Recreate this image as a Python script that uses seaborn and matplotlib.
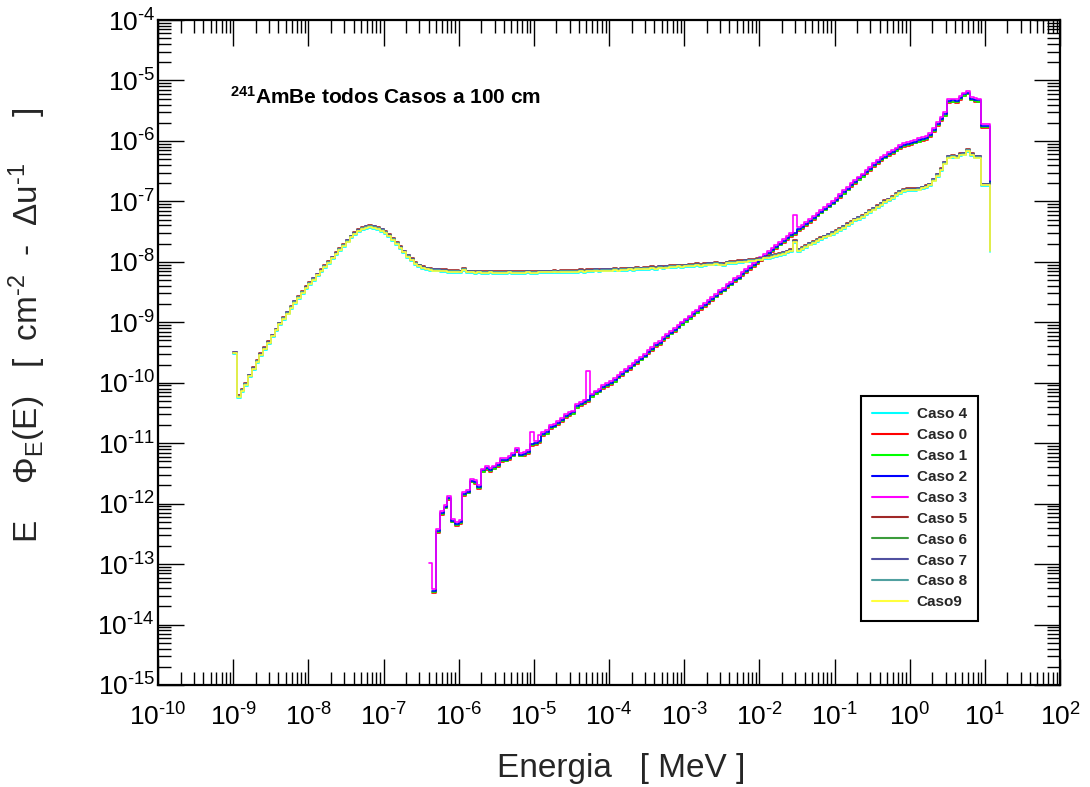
import numpy as np
import pandas as pd
import matplotlib
matplotlib.use("Agg")
import matplotlib.pyplot as plt
import seaborn as sns
from matplotlib.lines import Line2D
from matplotlib.ticker import LogLocator, NullFormatter, FuncFormatter

sns.set_theme(style="white")
plt.rcParams['font.family'] = ['Liberation Sans', 'DejaVu Sans']
plt.rcParams['mathtext.fontset'] = 'custom'
plt.rcParams['mathtext.rm'] = 'Liberation Sans'
plt.rcParams['mathtext.it'] = 'Liberation Sans:italic'
plt.rcParams['mathtext.bf'] = 'Liberation Sans:bold'
plt.rcParams['axes.unicode_minus'] = False

# ---------------- data (log10 values) ----------------
# lethargy bins, 20 per decade; first bin starts at 1e-9 MeV
log_e_first = -9.0
log_e_step = 0.05
log_e_last_edge = 1.075          # upper end of spectrum (~11.9 MeV)

# moderated spectra (Casos 4-9): bins from 1e-9 MeV up to 10^1.05 MeV, plus final edge value
group2_log = [
    -9.50, -10.22, -10.12, -10.02, -9.88, -9.76, -9.64, -9.53, -9.43, -9.33,
    -9.22, -9.12, -9.02, -8.93, -8.84, -8.75, -8.66, -8.58, -8.50, -8.42,
    -8.35, -8.28, -8.21, -8.14, -8.07, -8.00, -7.93, -7.86, -7.79, -7.72,
    -7.65, -7.58, -7.53, -7.48, -7.44, -7.42, -7.41, -7.42, -7.44, -7.47,
    -7.51, -7.56, -7.62, -7.69, -7.76, -7.83, -7.90, -7.96, -8.02, -8.06,
    -8.09, -8.11, -8.12, -8.13, -8.13, -8.14, -8.14, -8.15, -8.15, -8.15,
    -8.16, -8.12, -8.16, -8.16, -8.17, -8.16, -8.17, -8.17, -8.16, -8.17,
    -8.17, -8.17, -8.17, -8.16, -8.17, -8.17, -8.17, -8.17, -8.16, -8.17,
    -8.17, -8.16, -8.16, -8.16, -8.16, -8.15, -8.16, -8.15, -8.15, -8.15,
    -8.15, -8.15, -8.14, -8.15, -8.14, -8.14, -8.13, -8.14, -8.13, -8.13,
    -8.13, -8.12, -8.13, -8.12, -8.12, -8.11, -8.12, -8.10, -8.11, -8.10,
    -8.10, -8.09, -8.10, -8.08, -8.09, -8.08, -8.07, -8.07, -8.06, -8.07,
    -8.06, -8.05, -8.05, -8.04, -8.05, -8.04, -8.03, -8.03, -8.02, -8.03,
    -8.04, -8.01, -8.00, -8.00, -7.99, -7.99, -7.98, -7.97, -7.97, -7.96,
    -7.95, -7.93, -7.92, -7.90, -7.89, -7.87, -7.85, -7.83, -7.81, -7.66,
    -7.80, -7.77, -7.74, -7.70, -7.67, -7.64, -7.61, -7.58, -7.55, -7.52,
    -7.49, -7.46, -7.42, -7.38, -7.34, -7.30, -7.27, -7.24, -7.20, -7.16,
    -7.12, -7.08, -7.04, -7.00, -6.97, -6.93, -6.88, -6.84, -6.81, -6.80,
    -6.80, -6.80, -6.79, -6.77, -6.75, -6.72, -6.64, -6.56, -6.47, -6.36,
    -6.26, -6.25, -6.26, -6.22, -6.21, -6.15, -6.22, -6.26, -6.26, -6.72,
    -6.72, -6.72,
]
group2_final = -7.80

# bare-source spectra (Casos 0-3): bins from 10^-6.35 MeV up to 10^1.05 MeV
group1_first_log_e = -6.35
group1_log = [
    -13.44, -12.45, -12.15, -12.05, -11.91, -12.28, -12.34,
    -12.30, -11.84, -11.80, -11.62, -11.64, -11.72, -11.45, -11.41, -11.44, -11.40,
    -11.36, -11.28, -11.27, -11.24, -11.19, -11.11, -11.19, -11.18, -11.15, -11.01,
    -11.00, -10.96, -10.85, -10.82, -10.73, -10.71, -10.67, -10.62, -10.55, -10.52,
    -10.49, -10.39, -10.35, -10.32, -10.29, -10.21, -10.16, -10.13, -10.07, -10.04,
    -10.00, -9.96, -9.90, -9.86, -9.80, -9.76, -9.70, -9.66, -9.60, -9.55,
    -9.49, -9.44, -9.38, -9.34, -9.28, -9.23, -9.17, -9.13, -9.07, -9.02,
    -8.97, -8.92, -8.86, -8.82, -8.76, -8.71, -8.66, -8.61, -8.56, -8.50,
    -8.46, -8.40, -8.36, -8.30, -8.26, -8.20, -8.15, -8.10, -8.05, -8.00,
    -7.95, -7.90, -7.85, -7.80, -7.75, -7.70, -7.66, -7.61, -7.56, -7.52,
    -7.46, -7.42, -7.37, -7.32, -7.27, -7.22, -7.17, -7.12, -7.07, -7.02,
    -6.97, -6.91, -6.85, -6.79, -6.73, -6.68, -6.62, -6.57, -6.51, -6.46,
    -6.40, -6.35, -6.30, -6.26, -6.22, -6.18, -6.14, -6.10, -6.07, -6.05,
    -6.03, -6.01, -5.99, -5.97, -5.95, -5.90, -5.82, -5.72, -5.64, -5.56,
    -5.34, -5.33, -5.34, -5.29, -5.23, -5.20, -5.30, -5.32, -5.33, -5.75,
    -5.75, -5.75,
]
group1_final = -6.68

# Caso 3 shows a few extra spikes (log10 E of bin start -> log10 value)
caso3_pre_bin = (-6.40, -12.99)
caso3_spikes = {-5.05: -10.82, -4.95: -10.86, -4.30: -9.81, -1.55: -7.23}

casos = ["Caso 4", "Caso 0", "Caso 1", "Caso 2", "Caso 3",
         "Caso 5", "Caso 6", "Caso 7", "Caso 8", "Caso9"]
caso_group = [2, 1, 1, 1, 1, 2, 2, 2, 2, 2]
caso_shift = [-0.03, -0.03, -0.02, 0.0, 0.03, 0.015, 0.0, 0.005, -0.005, -0.015]
colors = ["#00FFFF", "#FF0000", "#00FF00", "#0000FF", "#FF00FF",
          "#A02828", "#3C9C3C", "#5050A0", "#50A0A0", "#FFFF3C"]

# ---------------- build long table ----------------
rows = []
for name, grp, shift in zip(casos, caso_group, caso_shift):
    if grp == 2:
        starts = log_e_first + log_e_step * np.arange(len(group2_log))
        vals = list(group2_log)
        final = group2_final
    else:
        starts = group1_first_log_e + log_e_step * np.arange(len(group1_log))
        vals = list(group1_log)
        final = group1_final
    le = list(np.round(starts, 3))
    if name == "Caso 3":
        for k, v in caso3_spikes.items():
            idx = le.index(round(k, 3))
            vals[idx] = v - shift
        le = [caso3_pre_bin[0]] + le
        vals = [caso3_pre_bin[1] - shift] + vals
    le = le + [log_e_last_edge]
    vals = vals + [final]
    for x, v in zip(le, vals):
        rows.append({"caso": name, "E": 10 ** x, "phi": 10 ** (v + shift)})
df = pd.DataFrame(rows)

# ---------------- plot ----------------
fig = plt.figure(figsize=(10.9, 7.87), dpi=100)
ax = fig.add_axes([158 / 1090, 1 - 685 / 787, 902 / 1090, 665 / 787])
ax.set_xscale("log")
ax.set_yscale("log")

sns.lineplot(data=df, x="E", y="phi", hue="caso", hue_order=casos,
             palette=colors, estimator=None, sort=False,
             drawstyle="steps-post", linewidth=1.2, legend=False, ax=ax)

ax.set_xlim(1e-10, 1e2)
ax.set_ylim(1e-15, 1e-4)


def pow10_label(v, pos):
    e = int(round(np.log10(v)))
    return r"10$^{\text{%d}}$" % e


for axis in (ax.xaxis, ax.yaxis):
    axis.set_major_locator(LogLocator(base=10, numticks=30))
    axis.set_minor_locator(LogLocator(base=10, subs=np.arange(2, 10), numticks=300))
    axis.set_major_formatter(FuncFormatter(pow10_label))
    axis.set_minor_formatter(NullFormatter())

ax.tick_params(which="both", direction="in", top=True, right=True,
               bottom=True, left=True, colors="black", width=1.0)
ax.tick_params(which="major", length=19, labelsize=19)
ax.tick_params(which="minor", length=9.5)
ax.tick_params(axis="y", which="major", pad=2)
ax.tick_params(axis="x", which="major", pad=13)
for sp in ax.spines.values():
    sp.set_color("black")
    sp.set_linewidth(1.6)

ax.set_xlabel("Energia   [ MeV ]", fontsize=24)
ax.xaxis.set_label_coords(0.514, -0.103)
ax.set_ylabel(r"E    $\Phi_{\mathrm{E}}$(E)   [  cm$^{\text{-2}}$  -  $\Delta$u$^{\text{-1}}$     ]",
              fontsize=24)
ax.yaxis.set_label_coords(-0.122, 0.541)

ax.text(0.0798, 0.874, r"$^{\mathbf{241}}$AmBe todos Casos a 100 cm",
        transform=ax.transAxes, fontsize=15, fontweight="bold",
        ha="left", va="baseline", color="black")

handles = [Line2D([0], [0], color=c, lw=1.5) for c in colors]
leg = ax.legend(handles, casos, loc="upper left", bbox_to_anchor=(0.7794, 0.4346),
                borderaxespad=0, frameon=True, fancybox=False, edgecolor="black",
                framealpha=1, prop={"weight": "bold", "size": 11},
                handlelength=2.3, handletextpad=0.6, labelspacing=0.45,
                borderpad=0.75)
leg.get_frame().set_linewidth(1.5)

fig.savefig("out.png", dpi=100)
